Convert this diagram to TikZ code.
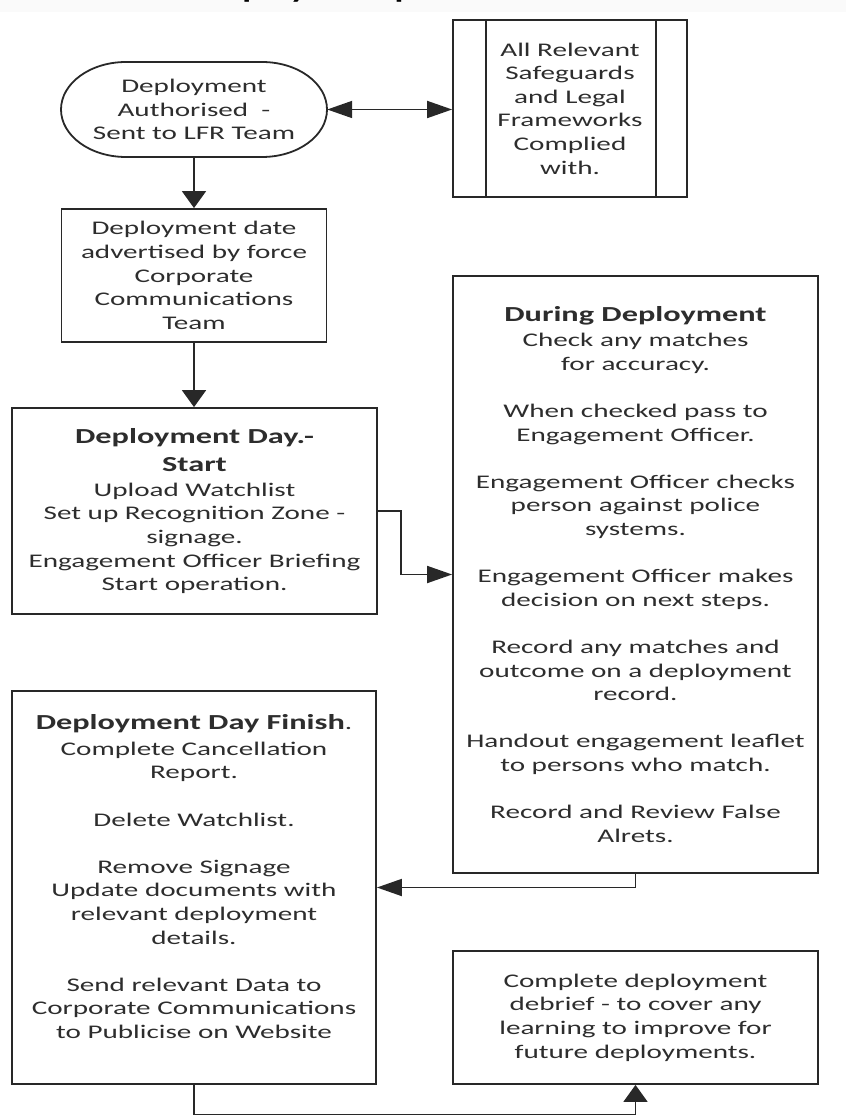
\documentclass[tikz,border=0pt]{standalone}
\usepackage{fontspec}
\setmainfont[FakeStretch=1.51]{Carlito}
\usetikzlibrary{arrows.meta}
\definecolor{ln}{RGB}{40,40,40}
\definecolor{tx}{RGB}{45,45,45}
\newcommand\regf{\fontsize{19.3}{23.6}\selectfont}
\newcommand\bldf{\fontsize{21.4}{23.6}\selectfont\bfseries}
\tikzset{
  box/.style={draw=ln, line width=1.8pt, rectangle, inner sep=0pt, align=center, font=\regf, text=tx},
  plain/.style={inner sep=0pt, align=center, font=\regf, text=tx},
  conn/.style={draw=ln, line width=1.8pt},
  harr/.style={-{Triangle[length=25pt,width=17pt]}},
  varr/.style={-{Triangle[length=17pt,width=24pt]}},
  dharr/.style={{Triangle[length=25pt,width=17pt]}-{Triangle[length=25pt,width=17pt]}},
}
\begin{document}
\begin{tikzpicture}[x=1pt,y=-1pt]
\useasboundingbox (0,0) rectangle (846,1115);
\fill[gray!4] (0,0) rectangle (846,12);
\node[font=\fontsize{24}{28}\selectfont\bfseries, text=black, anchor=base west, inner sep=0pt] (title) at (201,-1) {Deployment process};

% terminator
\node[plain, minimum width=266pt, minimum height=95pt] (stad) at (194,109.5)
  {Deployment\\Authorised \ -\\Sent to LFR Team};
\draw[conn] (126,62) -- (262,62) .. controls (297.9,62) and (327,83.3) .. (327,109.5)
  .. controls (327,135.7) and (297.9,157) .. (262,157) -- (126,157)
  .. controls (90.1,157) and (61,135.7) .. (61,109.5)
  .. controls (61,83.3) and (90.1,62) .. (126,62) -- cycle;

% subroutine
\node[box, minimum width=234pt, minimum height=177pt] (sub) at (570,108.5)
  {All Relevant\\Safeguards\\and Legal\\Frameworks\\Complied\\with.};
\draw[conn] ([xshift=34pt]sub.north west) -- ([xshift=34pt]sub.south west);
\draw[conn] ([xshift=-32pt]sub.north east) -- ([xshift=-32pt]sub.south east);

\node[box, minimum width=265pt, minimum height=133pt] (b2) at (194,275.5)
  {Deployment date\\advertised by force\\Corporate\\Communications\\Team};

\node[box, minimum width=365pt, minimum height=206pt] (b3) at (194.5,511)
  {{\bldf Deployment Day.-}\\[4.4pt]{\bldf Start}\\[1.4pt]Upload Watchlist\\Set up Recognition Zone -\\signage.\\Engagement Officer Briefing\\Start operation.};

\node[box, minimum width=365pt, minimum height=597pt] (b4) at (635.5,574.5)
  {{\bldf During Deployment}\\[1.4pt]
   Check any matches\\for accuracy.\\[23.6pt]
   When checked pass to\\Engagement Officer.\\[23.6pt]
   Engagement Officer checks\\person against police\\systems.\\[23.6pt]
   Engagement Officer makes\\decision on next steps.\\[23.6pt]
   Record any matches and\\outcome on a deployment\\record.\\[23.6pt]
   Handout engagement leaflet\\to persons who match.\\[23.6pt]
   Record and Review False\\Alrets.};

\node[box, minimum width=364pt, minimum height=393pt] (b5) at (194,887.5) {};
\node[plain] (b5t) at (194,876.5)
  {{\bldf Deployment Day Finish}.\\[2.4pt]
   Complete Cancellation\\Report.\\[23.6pt]
   Delete Watchlist.\\[23.6pt]
   Remove Signage\\Update documents with\\relevant deployment\\details.\\[23.6pt]
   Send relevant Data to\\Corporate Communications\\to Publicise on Website};

\node[box, minimum width=365pt, minimum height=133pt] (b6) at (635.5,1017.5)
  {Complete deployment\\debrief - to cover any\\learning to improve for\\future deployments.};

% connectors
\draw[conn, dharr] (stad.east) -- (stad.east -| sub.west);
\draw[conn, varr] (stad.south) -- (b2.north);
\draw[conn, varr] (b2.south) -- (b2.south |- b3.north);
\draw[conn, harr] (b3.east) -- ++(23,0) |- (b4.west);
\draw[conn, harr] (b4.south) |- (b5.east);
\draw[conn, varr] (b5.south) -- ++(0,29.5) -| (b6.south);
\end{tikzpicture}
\end{document}
